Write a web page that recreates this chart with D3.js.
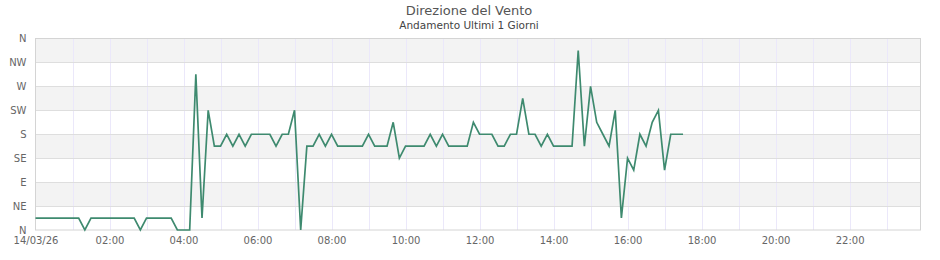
<!DOCTYPE html>
<html>
<head>
<meta charset="utf-8">
<title>Direzione del Vento</title>
<script src="https://cdnjs.cloudflare.com/ajax/libs/d3/7.8.5/d3.min.js"></script>
<style>
	body { margin: 0; background: #fff; }
	#vis_container { width: 940px; height: 260px; }
	text { font-family: "DejaVu Sans", sans-serif; }
</style>
</head>
<body>
<div id="vis_container"></div>
<script>
// letture ogni 10 minuti
var times = [
	"00:00","00:10","00:20","00:30","00:40","00:50","01:00","01:10","01:20","01:30","01:40","01:50",
	"02:00","02:10","02:20","02:30","02:40","02:50","03:00","03:10","03:20","03:30","03:40","03:50",
	"04:00","04:10","04:20","04:30","04:40","04:50","05:00","05:10","05:20","05:30","05:40","05:50",
	"06:00","06:10","06:20","06:30","06:40","06:50","07:00","07:10","07:20","07:30","07:40","07:50",
	"08:00","08:10","08:20","08:30","08:40","08:50","09:00","09:10","09:20","09:30","09:40","09:50",
	"10:00","10:10","10:20","10:30","10:40","10:50","11:00","11:10","11:20","11:30","11:40","11:50",
	"12:00","12:10","12:20","12:30","12:40","12:50","13:00","13:10","13:20","13:30","13:40","13:50",
	"14:00","14:10","14:20","14:30","14:40","14:50","15:00","15:10","15:20","15:30","15:40","15:50",
	"16:00","16:10","16:20","16:30","16:40","16:50","17:00","17:10","17:20","17:30"
];

// gradi
var direction = [
	22.5, 22.5, 22.5, 22.5, 22.5, 22.5, 22.5, 22.5, 0, 22.5, 22.5, 22.5,
	22.5, 22.5, 22.5, 22.5, 22.5, 0, 22.5, 22.5, 22.5, 22.5, 22.5, 0,
	0, 0, 292.5, 22.5, 225, 157.5, 157.5, 180, 157.5, 180, 157.5, 180,
	180, 180, 180, 157.5, 180, 180, 225, 0, 157.5, 157.5, 180, 157.5,
	180, 157.5, 157.5, 157.5, 157.5, 157.5, 180, 157.5, 157.5, 157.5, 202.5, 135,
	157.5, 157.5, 157.5, 157.5, 180, 157.5, 180, 157.5, 157.5, 157.5, 157.5, 202.5,
	180, 180, 180, 157.5, 157.5, 180, 180, 247.5, 180, 180, 157.5, 180,
	157.5, 157.5, 157.5, 157.5, 337.5, 157.5, 270, 202.5, 180, 157.5, 225, 22.5,
	135, 112.5, 180, 157.5, 202.5, 225, 112.5, 180, 180, 180
];

var yTicks = [0, 45, 90, 135, 180, 225, 270, 315, 360];
var yLabels = ["N", "NE", "E", "SE", "S", "SW", "W", "NW", "N"];
var xTickHours = ["00:00","02:00","04:00","06:00","08:00","10:00","12:00","14:00","16:00","18:00","20:00","22:00"];
var day = "2026-03-14";

var chart = {};

chart.width = 940;
chart.height = 260;
chart.plot = {"left": 35.5, "right": 920.5, "top": 38.5, "bottom": 230};

chart.parse = d3.timeParse("%Y-%m-%d %H:%M");
chart.data = times.map(function(t, i) { return {t: chart.parse(day + " " + t), v: direction[i]}; });

chart.x = d3.scaleTime()
	.domain([chart.parse(day + " 00:00"), chart.parse(day + " 23:55")])
	.range([chart.plot.left, chart.plot.right]);

chart.y = d3.scaleLinear()
	.domain([0, 360])
	.range([chart.plot.bottom, chart.plot.top]);

chart.svg = d3.select("#vis_container").append("svg")
	.attr("width", chart.width)
	.attr("height", chart.height);

// bande alternate
chart.svg.selectAll(".band")
	.data(d3.range(yTicks.length - 1))
	.enter()
	.append("rect")
		.attr("class", "band")
		.attr("x", chart.plot.left)
		.attr("width", chart.plot.right - chart.plot.left)
		.attr("y", function(i) { return chart.y(yTicks[i + 1]); })
		.attr("height", function(i) { return chart.y(yTicks[i]) - chart.y(yTicks[i + 1]); })
		.attr("fill", function(i) { return i % 2 === 1 ? "#f3f3f3" : "#ffffff"; });

// griglia verticale (ogni ora)
chart.hours = d3.timeHour.range(chart.parse(day + " 01:00"), chart.parse(day + " 23:55"));
chart.svg.selectAll(".vgrid")
	.data(chart.hours)
	.enter()
	.append("line")
		.attr("class", "vgrid")
		.attr("x1", function(d) { return Math.round(chart.x(d)) + 0.5; })
		.attr("x2", function(d) { return Math.round(chart.x(d)) + 0.5; })
		.attr("y1", chart.plot.top)
		.attr("y2", chart.plot.bottom)
		.attr("stroke", "#ebe8fa")
		.attr("stroke-width", 1);

// griglia orizzontale
chart.svg.selectAll(".hgrid")
	.data(yTicks.slice(1, -1))
	.enter()
	.append("line")
		.attr("class", "hgrid")
		.attr("x1", chart.plot.left)
		.attr("x2", chart.plot.right)
		.attr("y1", function(d) { return Math.round(chart.y(d)) + 0.5; })
		.attr("y2", function(d) { return Math.round(chart.y(d)) + 0.5; })
		.attr("stroke", "#dedede")
		.attr("stroke-width", 1);

// bordo
chart.svg.append("rect")
	.attr("x", chart.plot.left)
	.attr("y", chart.plot.top)
	.attr("width", chart.plot.right - chart.plot.left)
	.attr("height", chart.plot.bottom - chart.plot.top)
	.attr("fill", "none")
	.attr("stroke", "#d4d4d4")
	.attr("stroke-width", 1);

// assi
chart.yAxis = d3.axisLeft(chart.y)
	.tickValues(yTicks)
	.tickSize(0)
	.tickPadding(9)
	.tickFormat(function(d, i) { return yLabels[i]; });

chart.svg.append("g")
	.attr("transform", "translate(" + chart.plot.left + ",0)")
	.call(chart.yAxis)
	.call(function(g) { g.select(".domain").remove(); })
	.selectAll("text")
		.attr("fill", "#666")
		.attr("font-size", "10px")
		.attr("font-family", "DejaVu Sans, sans-serif");

chart.xAxis = d3.axisBottom(chart.x)
	.tickValues(xTickHours.map(function(h) { return chart.parse(day + " " + h); }))
	.tickSize(0)
	.tickPadding(7)
	.tickFormat(function(d, i) { return i === 0 ? d3.timeFormat("%d/%m/%y")(d) : xTickHours[i]; });

chart.svg.append("g")
	.attr("transform", "translate(0," + chart.plot.bottom + ")")
	.call(chart.xAxis)
	.call(function(g) { g.select(".domain").remove(); })
	.selectAll("text")
		.attr("fill", "#666")
		.attr("font-size", "10px")
		.attr("font-family", "DejaVu Sans, sans-serif");

// linea
chart.line = d3.line()
	.x(function(d) { return chart.x(d.t); })
	.y(function(d) { return chart.y(d.v); });

chart.svg.append("path")
	.datum(chart.data)
	.attr("d", chart.line)
	.attr("fill", "none")
	.attr("stroke", "#3e8a6f")
	.attr("stroke-width", 1.7)
	.attr("stroke-linejoin", "miter");

// titoli
chart.svg.append("text")
	.attr("x", 469)
	.attr("y", 15)
	.attr("text-anchor", "middle")
	.attr("font-size", "13px")
	.attr("fill", "#555")
	.text("Direzione del Vento");

chart.svg.append("text")
	.attr("x", 469)
	.attr("y", 29)
	.attr("text-anchor", "middle")
	.attr("font-size", "10.5px")
	.attr("fill", "#444")
	.text("Andamento Ultimi 1 Giorni");
</script>
</body>
</html>
